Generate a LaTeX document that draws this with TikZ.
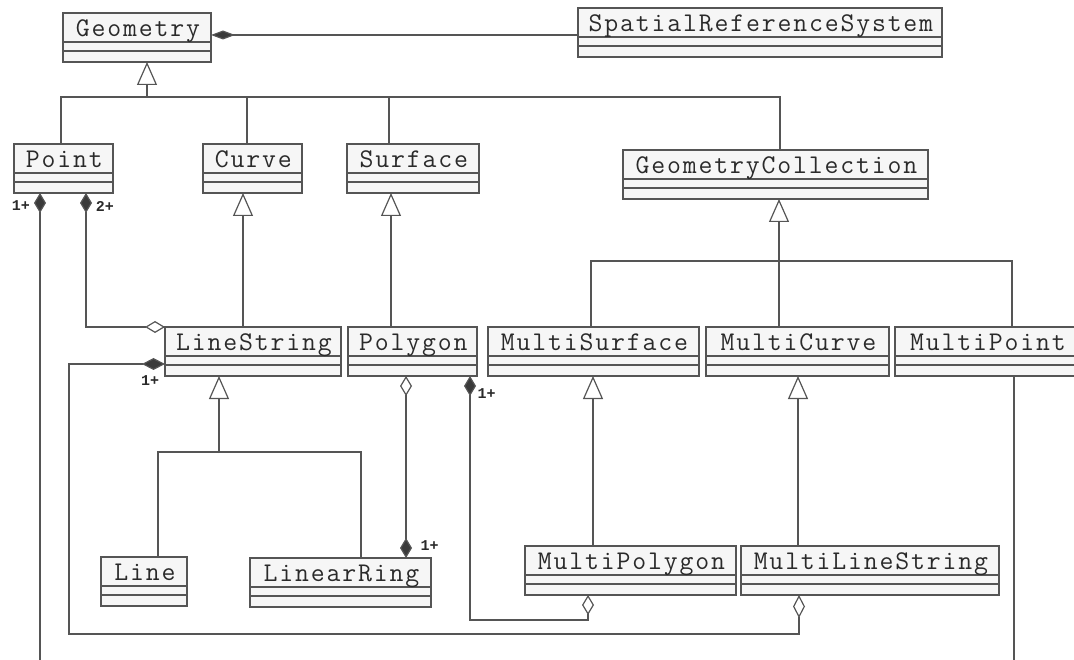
\documentclass[tikz,border=0pt]{standalone}
\usepackage{fontspec}
\usetikzlibrary{arrows.meta,calc}
\newfontfamily\clsfont{Latin Modern Mono}[LetterSpace=6.8]
\newfontfamily\multfont{Liberation Mono}
\newcommand{\clsfnt}{\clsfont\fontsize{27pt}{30pt}\selectfont}
\newcommand{\multfnt}{\multfont\bfseries\fontsize{15pt}{17pt}\selectfont}
\definecolor{linec}{HTML}{555555}
\definecolor{boxfill}{HTML}{F6F6F6}
\definecolor{textc}{HTML}{2A2A2A}
\definecolor{tipc}{HTML}{3A3A3A}

\tikzset{
  clsbox/.style={draw=linec, fill=boxfill, line width=1.2pt, minimum height=49pt,
    inner sep=0pt, outer sep=0pt, anchor=north west},
  clsname/.style={font=\clsfnt, text=textc, anchor=base, inner sep=0pt},
  divider/.style={draw=linec, line width=1.2pt},
  conn/.style={draw=linec, line width=1.2pt},
  mult/.style={font=\multfnt, text=textc, inner sep=0pt},
  gen/.style={arrows={-Triangle[open, length=23pt, width=20pt]}},
  compagg/.style={arrows={Diamond[length=20pt, width=12pt, fill=tipc]-Diamond[open, length=20pt, width=12pt]}},
  aggcomp/.style={arrows={Diamond[open, length=20pt, width=12pt]-Diamond[length=20pt, width=12pt, fill=tipc]}},
  compstart/.style={arrows={Diamond[length=20pt, width=12pt, fill=tipc]-}},
  hcompagg/.style={arrows={Diamond[length=23pt, width=12pt, fill=tipc]-Diamond[open, length=23pt, width=12pt]}},
}

% class box: name, left, top, width, title (all in pt, y measured downwards)
\newcommand{\umlclass}[5]{%
  \node[clsbox, minimum width=#4pt] (#1) at (#2pt,-#3pt) {};
  \draw[divider] ([yshift=-29pt]#1.north west) -- ([yshift=-29pt]#1.north east);
  \draw[divider] ([yshift=-38pt]#1.north west) -- ([yshift=-38pt]#1.north east);
  \node[clsname] at ([xshift=0.9pt,yshift=-23.5pt]#1.north) {#5};
}

\begin{document}
\begin{tikzpicture}
\path[use as bounding box] (0,0) rectangle (1074pt,-660pt);
\clip (0,0) rectangle (1074pt,-660pt);

% classes
\umlclass{geom}{63}{13}{148}{Geometry}
\umlclass{srs}{578}{8}{364}{SpatialReferenceSystem}
\umlclass{point}{14}{144}{99}{Point}
\umlclass{curve}{203}{144}{99}{Curve}
\umlclass{surface}{347}{144}{132}{Surface}
\umlclass{gcoll}{623}{150}{305}{GeometryCollection}
\umlclass{lstr}{165}{327}{176}{LineString}
\umlclass{poly}{348}{327}{129}{Polygon}
\umlclass{msurf}{488}{327}{211}{MultiSurface}
\umlclass{mcurve}{706}{327}{183}{MultiCurve}
\umlclass{mpoint}{895}{327}{184}{MultiPoint}
\umlclass{lin}{101}{557}{86}{Line}
\umlclass{lring}{250}{558}{181}{LinearRing}
\umlclass{mpoly}{525}{546}{211}{MultiPolygon}
\umlclass{mlstr}{741}{546}{258}{MultiLineString}

% Geometry owns its reference system
\draw[conn, arrows={Diamond[length=24pt, width=9pt, fill=tipc]-}]
  ([yshift=2.5pt]geom.east) -- ([yshift=-2.5pt]srs.west);

% Geometry subclasses
\coordinate (geomhub) at ($(geom.south)+(10pt,-35pt)$);
\draw[conn] ([xshift=-2.5pt]point.north) |- ([xshift=4.5pt,yshift=53pt]gcoll.north)
  -- ([xshift=4.5pt]gcoll.north);
\draw[conn] ([xshift=-5.5pt]curve.north) -- ++(0,47pt);
\draw[conn] ([xshift=-24pt]surface.north) -- ++(0,47pt);
\draw[conn, gen] (geomhub) -- ([xshift=10pt]geom.south);

% Curve / Surface subclasses
\draw[conn, gen] ([xshift=-10pt]lstr.north) -- ([xshift=-10pt]lstr.north |- curve.south);
\draw[conn, gen] ([xshift=-21.5pt]poly.north) -- ([xshift=-21.5pt]poly.north |- surface.south);

% GeometryCollection subclasses
\draw[conn] ([xshift=-2.5pt]msurf.north) -- ++(0,66pt) -| ([xshift=25pt]mpoint.north);
\draw[conn, gen] ([xshift=-18.5pt]mcurve.north) -- ([xshift=-18.5pt]mcurve.north |- gcoll.south);

% LineString subclasses
\coordinate (lstrhub) at ($(lstr.south)+(-34pt,-77pt)$);
\draw[conn] ([xshift=14pt]lin.north) -- ++(0,105pt) -| ([xshift=20.5pt]lring.north);
\draw[conn, gen] (lstrhub) -- ([xshift=-34pt]lstr.south);

% multi-geometry subclasses
\draw[conn, gen] ([xshift=-37.5pt]mpoly.north) -- ([xshift=-37.5pt]mpoly.north |- msurf.south);
\draw[conn, gen] ([xshift=-72pt]mlstr.north) -- ([xshift=-72pt]mlstr.north |- mcurve.south);

% Point aggregations
\draw[conn, compstart] ([xshift=-23.5pt]point.south) -- ++(0,-520pt) -| ([xshift=27pt]mpoint.south);
\draw[conn, compagg] ([xshift=22.5pt]point.south) |- (lstr.north west);
\node[mult] at ([xshift=-42.5pt,yshift=-13pt]point.south) {1+};
\node[mult] at ([xshift=41.5pt,yshift=-13pt]point.south) {2+};

% LineString into MultiLineString
\coordinate (lsturn) at (69pt,-634pt);
\draw[conn, hcompagg] ([yshift=-12.5pt]lstr.west) -| (lsturn) -| ([xshift=-71pt]mlstr.south);
\node[mult] at ([xshift=-15pt,yshift=-29.5pt]lstr.west) {1+};

% Polygon rings and MultiPolygon
\draw[conn, aggcomp] ([xshift=-6.5pt]poly.south) -- ([xshift=65.5pt]lring.north);
\node[mult] at ([xshift=89pt,yshift=12pt]lring.north) {1+};
\coordinate (mpturn) at (588pt,-620pt);
\draw[conn, compagg] ([xshift=57.5pt]poly.south) |- (mpturn) -- ([xshift=-42.5pt]mpoly.south);
\node[mult] at ([xshift=74pt,yshift=-18pt]poly.south) {1+};
\end{tikzpicture}
\end{document}
